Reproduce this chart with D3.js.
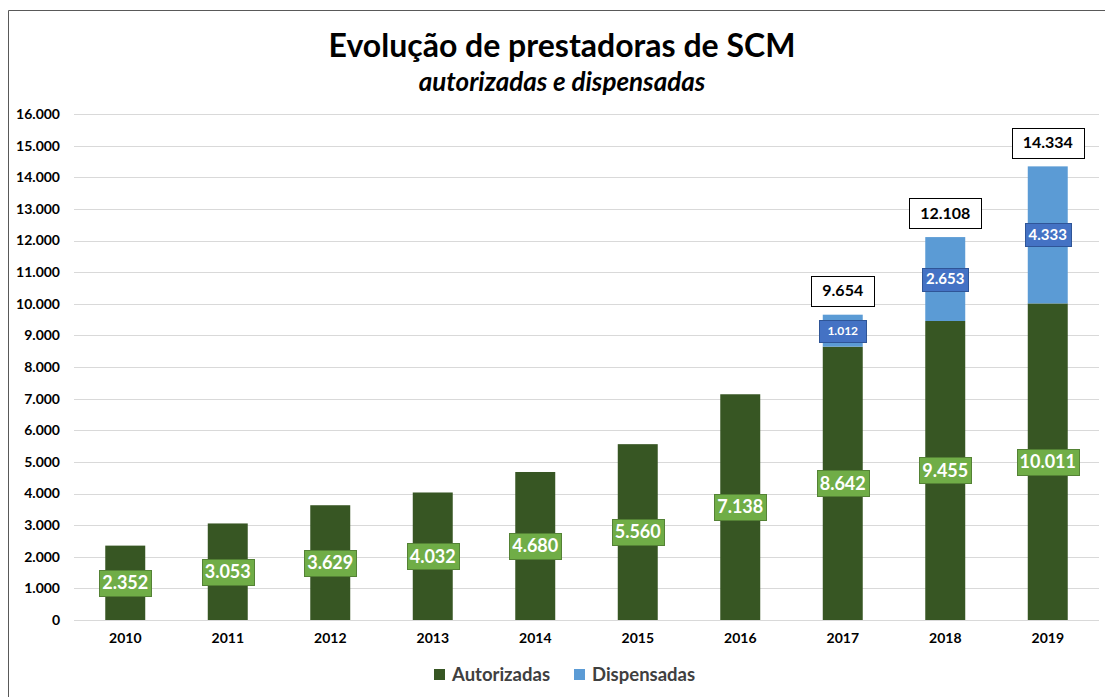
<!DOCTYPE html>
<html>
<head>
<meta charset="utf-8">
<script src="https://cdn.jsdelivr.net/npm/d3@7"></script>
<style>
  body { margin: 0; background: #fff; }
  text { font-family: Lato, "Open Sans", sans-serif; }
</style>
</head>
<body>
<svg id="chart" width="1105" height="697"></svg>
<script>
// chart data
var years = ['2010', '2011', '2012', '2013', '2014', '2015', '2016', '2017', '2018', '2019'];
var autorizadas = [2352, 3053, 3629, 4032, 4680, 5560, 7138, 8642, 9455, 10011];
var dispensadas = [0, 0, 0, 0, 0, 0, 0, 1012, 2653, 4333];
var totals = [null, null, null, null, null, null, null, 9654, 12108, 14334];
var yTicks = d3.range(0, 16001, 1000);

var svg = d3.select('#chart');
var W = +svg.attr('width');

// outer frame (top and left edges visible)
svg.append('path')
    .attr('d', 'M8.5,' + 697 + 'V10.5H' + W)
    .attr('fill', 'none').attr('stroke', '#595959').attr('stroke-width', 1);

// title
svg.append('text').attr('x', 562).attr('y', 57).attr('text-anchor', 'middle')
    .style('font-size', '32px').style('font-weight', 'bold').attr('fill', '#000')
    .text('Evolução de prestadoras de SCM');
svg.append('text').attr('x', 562).attr('y', 91).attr('text-anchor', 'middle')
    .style('font-size', '26px').style('font-weight', 'bold').style('font-style', 'italic').attr('fill', '#000')
    .text('autorizadas e dispensadas');

var x = d3.scaleBand().domain(years).range([74, 1099]).paddingInner(0.61).paddingOuter(0.305);
var y = d3.scaleLinear().domain([0, 16000]).range([620, 114]);
var fmt = function(v) { return d3.format(',')(v).replace(/,/g, '.'); };

// gridlines
svg.append('g').selectAll('line').data(yTicks).enter().append('line')
    .attr('x1', 74).attr('x2', 1099)
    .attr('y1', function(d) { return Math.round(y(d)) + 0.5; })
    .attr('y2', function(d) { return Math.round(y(d)) + 0.5; })
    .attr('stroke', '#d9d9d9').attr('stroke-width', 1);

// y axis labels
var yAxis = d3.axisLeft(y).tickValues(yTicks).tickSize(0).tickPadding(0).tickFormat(fmt);
var gy = svg.append('g').attr('transform', 'translate(60,0)').call(yAxis);
gy.select('.domain').remove();
gy.selectAll('text').style('font-size', '14px').style('font-weight', 'bold').attr('fill', '#000');

// x axis labels
var xAxis = d3.axisBottom(x).tickSize(0).tickPadding(13);
var gx = svg.append('g').attr('transform', 'translate(0,620)').call(xAxis);
gx.select('.domain').remove();
gx.selectAll('text').style('font-size', '14px').style('font-weight', 'bold').attr('fill', '#000');

// bars
var bw = x.bandwidth();
svg.append('g').selectAll('rect').data(years).enter().append('rect')
    .attr('x', function(d) { return x(d); })
    .attr('width', bw)
    .attr('y', function(d, i) { return y(autorizadas[i]); })
    .attr('height', function(d, i) { return y(0) - y(autorizadas[i]); })
    .attr('fill', '#375623');
svg.append('g').selectAll('rect').data(years).enter().append('rect')
    .attr('x', function(d) { return x(d); })
    .attr('width', bw)
    .attr('y', function(d, i) { return y(autorizadas[i] + dispensadas[i]); })
    .attr('height', function(d, i) { return y(autorizadas[i]) - y(autorizadas[i] + dispensadas[i]); })
    .attr('fill', '#5b9bd5');

// label helper: box with centered text
function labelBox(cx, cy, txt, opts) {
    var g = svg.append('g');
    var t = g.append('text').attr('x', cx).attr('y', cy).attr('dy', '0.35em')
        .attr('text-anchor', 'middle')
        .style('font-size', opts.size + 'px').style('font-weight', 'bold')
        .attr('fill', opts.color).text(txt);
    var bb = t.node().getBBox();
    var w = bb.width + opts.padX * 2;
    g.insert('rect', 'text')
        .attr('x', Math.round(cx - w / 2) + 0.5).attr('y', Math.round(cy - opts.h / 2) + 0.5)
        .attr('width', Math.round(w)).attr('height', opts.h)
        .attr('fill', opts.fill).attr('stroke', opts.stroke).attr('stroke-width', 1);
}

years.forEach(function(yr, i) {
    var cx = x(yr) + bw / 2;
    labelBox(cx, y(autorizadas[i] / 2), fmt(autorizadas[i]),
        {size: 18, color: '#fff', fill: '#70ad47', stroke: '#548235', padX: 3, h: 26});
    if (dispensadas[i] > 0) {
        var small = dispensadas[i] < 2000;
        labelBox(cx, y(autorizadas[i] + dispensadas[i] / 2), fmt(dispensadas[i]),
            {size: small ? 12 : 15, color: '#fff', fill: '#4472c4', stroke: '#2f5597', padX: small ? 8 : 4, h: small ? 22 : 23});
    }
    if (totals[i] != null) {
        labelBox(cx, y(totals[i]) - 24, fmt(totals[i]),
            {size: 16, color: '#000', fill: '#fff', stroke: '#000', padX: 11, h: 30});
    }
});

// legend
var legend = [{name: 'Autorizadas', color: '#375623', x: 434}, {name: 'Dispensadas', color: '#5b9bd5', x: 574}];
var lg = svg.append('g').selectAll('g').data(legend).enter().append('g');
lg.append('rect').attr('x', function(d) { return d.x; }).attr('y', 669)
    .attr('width', 11).attr('height', 11).attr('fill', function(d) { return d.color; });
lg.append('text').attr('x', function(d) { return d.x + 18; }).attr('y', 675).attr('dy', '0.35em')
    .style('font-size', '18.5px').style('font-weight', 'bold').attr('fill', '#404040')
    .text(function(d) { return d.name; });
</script>
</body>
</html>
